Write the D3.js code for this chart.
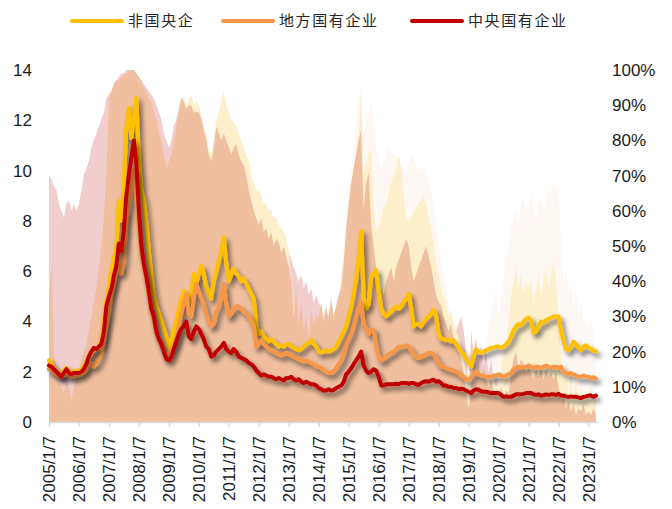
<!DOCTYPE html>
<html>
<head>
<meta charset="utf-8">
<script src="https://cdn.jsdelivr.net/npm/d3@7"></script>
<style>
  body { margin: 0; background: #fff; }
  svg { display: block; font-family: "Liberation Sans", Arial, sans-serif; }
  .tick text { fill: #1a1a1a; font-size: 17px; }
  .legend text { font-family: "Noto Sans CJK SC", sans-serif; font-size: 15px; fill: #262626; letter-spacing: 1.6px; }
</style>
</head>
<body>
<svg width="672" height="509"></svg>
<script>
// monthly readings, Jan 2005 .. Apr 2023
var startDate = new Date(2005, 0, 7);

var nonSoePE = [
  2.45, 2.3, 2.15, 2.05, 1.95, 1.9, 2.05, 2.15, 2.05, 1.95, 2.0, 2.05,
  2.05, 2.1, 2.2, 2.4, 2.6, 2.75, 2.85, 2.9, 3.0, 3.3, 4.0, 4.8,
  5.4, 6.0, 6.5, 6.9, 8.8, 8.0, 9.5, 11.7, 12.5, 11.3, 12.0, 12.9,
  10.4, 9.2, 8.8, 7.9, 6.8, 5.8, 5.0, 4.6, 4.3, 4.0, 3.7, 3.4,
  2.9, 3.3, 3.6, 4.0, 4.5, 4.9, 5.2, 5.1, 4.7, 5.2, 5.9, 5.5,
  5.9, 6.2, 5.9, 5.4, 5.1, 4.9, 5.6, 6.0, 6.4, 6.8, 7.35, 6.3,
  5.6, 5.9, 6.1, 5.9, 5.8, 5.6, 5.7, 5.5, 5.3, 5.1, 4.9, 3.8,
  3.5, 3.6, 3.4, 3.3, 3.2, 3.3, 3.2, 3.1, 3.0, 3.05, 3.0, 3.1,
  3.1, 3.0, 2.95, 2.9, 2.85, 2.9, 3.0, 3.1, 3.15, 3.25, 3.1, 3.0,
  2.8, 2.75, 2.8, 2.85, 2.8, 2.85, 2.9, 3.0, 3.2, 3.4, 3.6, 3.8,
  4.2, 4.6, 5.1, 5.7, 6.5, 7.6, 5.0, 4.5, 4.7, 5.8, 5.9, 6.05,
  5.2, 4.5, 4.3, 4.2, 4.3, 4.4, 4.5, 4.6, 4.5, 4.6, 4.8, 4.9,
  5.1, 4.5, 3.8, 3.9, 3.9, 3.8, 4.0, 4.1, 4.2, 4.3, 4.45, 4.2,
  3.5, 3.3, 3.3, 3.25, 3.3, 3.2, 3.25, 3.1, 2.95, 2.8, 2.7, 2.5,
  2.35, 2.2, 2.6, 2.9, 2.8, 2.75, 2.8, 2.85, 2.9, 2.95, 2.95, 3.0,
  3.0, 2.95, 3.0, 3.1, 3.2, 3.4, 3.65, 3.8, 3.9, 3.85, 4.0, 4.1,
  4.15, 4.0, 3.55, 3.6, 3.8, 4.0, 3.95, 4.05, 4.1, 4.15, 4.2, 4.2,
  4.2, 3.6, 3.2, 2.9, 2.85, 3.0, 3.2, 3.1, 2.95, 2.85, 3.0, 3.05,
  2.95, 2.9, 2.85, 2.8
];

var localSoePE = [
  2.1, 2.05, 2.0, 1.9, 1.85, 1.8, 1.85, 1.9, 1.85, 1.8, 1.8, 1.85,
  1.85, 1.9, 1.95, 2.05, 2.2, 2.35, 2.2, 2.3, 2.5, 2.7, 3.2, 3.8,
  4.3, 5.1, 5.5, 5.9, 6.3, 5.9, 6.4, 8.0, 8.6, 9.3, 10.0, 9.0,
  7.6, 6.6, 6.2, 5.6, 5.0, 4.4, 4.0, 3.5, 3.3, 3.0, 2.8, 2.6,
  2.7, 2.9, 3.1, 3.3, 3.8, 4.3, 4.7, 5.1, 4.3, 4.2, 4.9, 5.5,
  5.2, 4.9, 4.7, 4.3, 4.0, 3.8, 3.9, 4.4, 4.6, 5.0, 5.5, 4.7,
  4.2, 4.3, 4.5, 4.6, 4.6, 4.5, 4.4, 4.3, 4.2, 4.0, 3.8, 3.0,
  3.1, 3.25, 3.1, 3.0, 2.9, 2.85, 2.8, 2.75, 2.7, 2.65, 2.7, 2.75,
  2.7, 2.65, 2.6, 2.55, 2.5, 2.45, 2.4, 2.45, 2.4, 2.35, 2.3, 2.2,
  2.2, 2.15, 2.05, 2.0, 1.95, 1.95, 2.0, 2.15, 2.3, 2.45, 2.7, 3.1,
  3.3, 3.5, 3.8, 4.2, 4.5, 4.75, 3.9, 3.7, 3.5, 3.7, 3.65, 3.0,
  2.6, 2.45, 2.5, 2.6, 2.7, 2.75, 2.8, 2.9, 3.0, 3.0, 3.0, 3.05,
  3.0, 2.85, 2.7, 2.6, 2.55, 2.6, 2.65, 2.7, 2.75, 2.75, 2.7, 2.5,
  2.35, 2.2, 2.2, 2.15, 2.1, 2.07, 2.05, 2.0, 1.95, 1.85, 1.8, 1.7,
  1.65, 1.8, 1.95, 2.0, 1.9, 1.85, 1.85, 1.8, 1.8, 1.8, 1.85, 1.85,
  1.9, 1.85, 1.8, 1.85, 1.9, 1.95, 2.1, 2.15, 2.2, 2.15, 2.2, 2.2,
  2.25, 2.2, 2.15, 2.2, 2.2, 2.15, 2.2, 2.25, 2.2, 2.15, 2.2, 2.2,
  2.15, 2.2, 2.0, 1.95, 1.9, 1.95, 1.9, 1.85, 1.8, 1.8, 1.85, 1.8,
  1.8, 1.75, 1.78, 1.72
];

var centralSoePE = [
  2.25, 2.2, 2.1, 2.0, 1.9, 1.8, 1.95, 2.1, 1.95, 1.9, 1.95, 1.95,
  1.95, 2.0, 2.1, 2.3, 2.6, 2.8, 2.95, 2.9, 3.0, 3.1, 3.6, 4.6,
  5.0, 5.3, 5.8, 6.2, 7.1, 6.8, 7.6, 9.0, 9.8, 10.5, 11.2, 10.3,
  8.4, 7.0, 6.3, 5.8, 5.2, 4.5, 4.2, 3.6, 3.3, 3.1, 2.8, 2.5,
  2.45, 2.6, 2.9, 3.2, 3.5, 3.7, 3.8, 4.0, 3.4, 3.3, 3.6, 3.8,
  3.7, 3.5, 3.3, 3.0, 2.9, 2.6, 2.65, 2.8, 2.9, 3.0, 3.15, 2.9,
  2.8, 2.75, 2.9, 2.8, 2.6, 2.55, 2.5, 2.45, 2.35, 2.3, 2.2, 2.05,
  1.95, 1.85, 1.9, 1.85, 1.8, 1.8, 1.75, 1.7, 1.75, 1.7, 1.65, 1.75,
  1.75, 1.8, 1.7, 1.65, 1.7, 1.6, 1.55, 1.6, 1.55, 1.5, 1.5, 1.45,
  1.35, 1.3, 1.25, 1.25, 1.3, 1.25, 1.28, 1.35, 1.4, 1.45, 1.6, 1.9,
  2.0, 2.15, 2.3, 2.45, 2.6, 2.8, 2.25, 2.05, 1.95, 2.0, 2.1, 2.05,
  1.8, 1.45, 1.45, 1.5, 1.5, 1.5, 1.5, 1.52, 1.5, 1.55, 1.55, 1.55,
  1.52, 1.55, 1.55, 1.5, 1.48, 1.55, 1.6, 1.62, 1.6, 1.65, 1.68, 1.6,
  1.62, 1.55, 1.45, 1.45, 1.4, 1.4, 1.35, 1.35, 1.3, 1.32, 1.3, 1.25,
  1.2, 1.15, 1.25, 1.3, 1.28, 1.22, 1.2, 1.2, 1.18, 1.15, 1.15, 1.15,
  1.15, 1.08, 1.0, 1.02, 1.0, 1.0, 1.05, 1.1, 1.1, 1.1, 1.12, 1.15,
  1.15, 1.15, 1.1, 1.08, 1.1, 1.05, 1.07, 1.1, 1.08, 1.1, 1.1, 1.08,
  1.12, 1.05, 1.05, 1.02, 1.0, 1.02, 1.0, 1.0, 0.98, 0.95, 1.0, 1.02,
  1.05, 1.05, 1.0, 1.05
];

// percentile shading, right axis (%)
var haloPct = [
  0, 0, 0, 0, 0, 0, 0, 0, 0, 0, 0, 0,
  0, 0, 0, 0, 0, 0, 0, 0, 0, 0, 0, 0,
  0, 0, 0, 0, 0, 0, 0, 0, 0, 0, 0, 0,
  0, 0, 0, 0, 0, 0, 0, 0, 0, 0, 0, 0,
  0, 0, 0, 0, 0, 0, 0, 0, 0, 0, 0, 0,
  0, 0, 0, 0, 0, 0, 0, 0, 0, 0, 0, 0,
  0, 0, 0, 0, 0, 0, 0, 0, 0, 0, 0, 0,
  0, 0, 0, 0, 0, 0, 0, 0, 0, 0, 0, 0,
  0, 0, 0, 0, 0, 0, 0, 0, 0, 0, 0, 0,
  0, 0, 0, 0, 0, 0, 0, 0, 30, 40, 50, 60,
  66, 72, 78, 84, 90, 96, 80, 86, 88, 91, 84, 78,
  74, 72, 74, 76, 78, 77, 76, 75, 74, 73, 72, 70,
  74, 76, 75, 73, 72, 71, 72, 70, 68, 66, 62, 56,
  50, 46, 42, 38, 34, 30, 26, 22, 18, 14, 10, 6,
  4, 6, 8, 10, 12, 14, 18, 22, 26, 30, 34, 38,
  30, 36, 40, 46, 50, 55, 58, 60, 56, 62, 64, 60,
  62, 65, 60, 58, 62, 64, 60, 63, 66, 65, 68, 66,
  68, 50, 40, 44, 36, 40, 32, 38, 30, 34, 28, 30,
  26, 30, 24, 20
];

var centralPct = [
  70, 69, 67, 66, 62, 60, 58, 62, 63, 60, 62, 60,
  62, 66, 70, 72, 74, 78, 80, 82, 84, 86, 88, 92,
  93, 94, 96, 97, 98, 99, 99, 100, 100, 100, 100, 99,
  98, 97, 96, 95, 94, 93, 92, 90, 88, 86, 82, 80,
  78, 80, 84, 86, 89, 92, 92, 90, 91, 91, 89, 89,
  86, 84, 80, 78, 74, 72, 76, 82, 80, 78, 80, 78,
  76, 74, 76, 76, 74, 72, 70, 68, 64, 60, 58, 55,
  54, 52, 52, 50, 51, 50, 49, 48, 49, 48, 47, 48,
  48, 46, 44, 42, 40, 42, 38, 40, 36, 38, 34, 36,
  34, 32, 30, 33, 28, 30, 28, 30, 32, 34, 38, 44,
  50, 58, 64, 70, 74, 78, 55, 60, 62, 50, 44, 40,
  36, 34, 32, 34, 36, 38, 36, 38, 40, 42, 44, 46,
  44, 40, 36, 38, 40, 42, 44, 46, 44, 40, 36, 34,
  32, 30, 28, 26, 28, 26, 24, 26, 28, 30, 26, 20,
  8, 26, 20, 24, 18, 22, 16, 20, 14, 18, 12, 14,
  12, 9, 12, 10, 11, 10, 14, 12, 10, 12, 11, 10,
  10, 12, 10, 11, 10, 12, 10, 11, 10, 12, 10, 11,
  8, 6, 7, 5, 6, 4, 5, 3, 4, 3, 4, 3,
  3, 2, 3, 2
];

var nonSoePct = [
  20, 25, 15, 12, 10, 8, 8, 10, 8, 6, 8, 10,
  12, 15, 18, 20, 24, 28, 32, 36, 40, 46, 54, 66,
  90, 92, 95, 96, 97, 98, 99, 99, 100, 100, 100, 99,
  97, 96, 94, 92, 90, 88, 86, 84, 80, 78, 74, 70,
  72, 74, 78, 82, 86, 90, 93, 90, 92, 93, 90, 91,
  90, 87, 84, 82, 78, 76, 80, 86, 88, 92, 94, 90,
  88, 86, 85, 84, 82, 80, 78, 76, 74, 70, 68, 66,
  66, 64, 62, 62, 60, 60, 58, 58, 56, 55, 54, 52,
  48, 40, 32, 36, 28, 30, 25, 28, 24, 28, 26, 28,
  26, 28, 25, 28, 26, 30, 28, 32, 36, 40, 48, 52,
  58, 64, 69, 74, 82, 94, 70, 74, 76, 78, 60, 55,
  55, 58, 61, 62, 65, 68, 70, 72, 76, 72, 64, 58,
  57, 58, 60, 61, 62, 63, 64, 62, 58, 55, 50, 45,
  42, 38, 36, 34, 30, 32, 28, 26, 24, 22, 18, 14,
  10, 14, 16, 15, 16, 14, 15, 13, 12, 14, 12, 10,
  12, 15, 20, 22, 28, 36, 40, 44, 38, 42, 36, 40,
  38, 40, 34, 38, 42, 36, 40, 44, 38, 42, 46, 40,
  30, 18, 12, 16, 8, 14, 6, 12, 8, 10, 6, 9,
  7, 10, 5, 8
];

var localPct = [
  35, 45, 20, 15, 12, 10, 8, 12, 10, 6, 10, 12,
  15, 18, 20, 22, 26, 30, 34, 38, 44, 50, 58, 70,
  92, 94, 96, 97, 97, 98, 99, 99, 100, 100, 100, 99,
  98, 97, 95, 94, 92, 91, 88, 86, 82, 80, 76, 72,
  74, 76, 80, 84, 88, 92, 91, 89, 90, 90, 88, 88,
  88, 86, 83, 80, 76, 74, 78, 84, 82, 80, 82, 80,
  78, 76, 78, 79, 76, 74, 73, 70, 66, 63, 60, 58,
  56, 58, 54, 55, 52, 54, 50, 52, 51, 48, 50, 47,
  44, 40, 30, 38, 28, 34, 26, 30, 24, 32, 28, 30,
  30, 34, 28, 32, 30, 35, 30, 33, 36, 38, 45, 55,
  62, 68, 72, 76, 80, 83, 60, 68, 71, 56, 50, 44,
  40, 38, 36, 40, 42, 44, 40, 44, 46, 48, 50, 52,
  50, 44, 40, 42, 44, 46, 48, 50, 47, 44, 40, 36,
  34, 33, 30, 28, 26, 28, 24, 22, 20, 18, 14, 8,
  4, 10, 16, 14, 18, 12, 16, 12, 10, 12, 9, 8,
  7, 10, 6, 9, 8, 14, 18, 20, 15, 18, 16, 14,
  16, 14, 12, 15, 13, 16, 12, 15, 13, 14, 12, 14,
  10, 6, 8, 4, 6, 3, 5, 2, 4, 3, 5, 2,
  3, 2, 4, 2
];

var yearTicks = d3.range(2005, 2024);
var leftTicks = [0, 2, 4, 6, 8, 10, 12, 14];
var rightTicks = [0, 0.1, 0.2, 0.3, 0.4, 0.5, 0.6, 0.7, 0.8, 0.9, 1];

var svg = d3.select("svg");

var x = d3.scaleTime()
    .domain([startDate, new Date(2023, 3, 20)])
    .range([49, 597]);
var yL = d3.scaleLinear().domain([0, 14]).range([422, 70]);
var yR = d3.scaleLinear().domain([0, 1]).range([422, 70]);

function toSeries(vals) {
  return vals.map(function(v, i) {
    return { date: d3.timeMonth.offset(startDate, i), v: v };
  });
}

// drop shadow for the lines
var f = svg.append("defs").append("filter")
    .attr("id", "shadow")
    .attr("filterUnits", "userSpaceOnUse")
    .attr("x", 0).attr("y", 0).attr("width", 672).attr("height", 509);
f.append("feGaussianBlur").attr("in", "SourceAlpha").attr("stdDeviation", 2.5);
f.append("feOffset").attr("dx", 3).attr("dy", 4).attr("result", "off");
f.append("feComponentTransfer").append("feFuncA").attr("type", "linear").attr("slope", 0.55);
var fm = f.append("feMerge");
fm.append("feMergeNode");
fm.append("feMergeNode").attr("in", "SourceGraphic");

var area = d3.area()
    .x(function(d) { return x(d.date); })
    .y0(yR(0))
    .y1(function(d) { return yR(d.v / 100); });

var areas = [
  { vals: haloPct, fill: "#fef8f5" },
  { vals: centralPct, fill: "#f2cdcd" },
  { vals: nonSoePct, fill: "#fdefcc" },
  { vals: localPct, fill: "#efbf9f" }
];

svg.append("g").selectAll("path")
    .data(areas)
  .enter().append("path")
    .attr("d", function(d) { return area(toSeries(d.vals)); })
    .attr("fill", function(d) { return d.fill; });

var line = d3.line()
    .x(function(d) { return x(d.date); })
    .y(function(d) { return yL(d.v); });

var lines = [
  { name: "非国央企", vals: nonSoePE, color: "#ffc000" },
  { name: "地方国有企业", vals: localSoePE, color: "#f79646" },
  { name: "中央国有企业", vals: centralSoePE, color: "#c00000" }
];

svg.append("g").selectAll("path")
    .data(lines)
  .enter().append("path")
    .attr("d", function(d) { return line(toSeries(d.vals)); })
    .attr("fill", "none")
    .attr("stroke", function(d) { return d.color; })
    .attr("stroke-width", 4)
    .attr("stroke-linejoin", "round")
    .attr("stroke-linecap", "round")
    .attr("filter", "url(#shadow)");

// axes
var gl = svg.append("g")
    .attr("transform", "translate(49,0)")
    .call(d3.axisLeft(yL).tickValues(leftTicks).tickSize(0).tickPadding(17));
gl.select(".domain").remove();

var gr = svg.append("g")
    .attr("transform", "translate(597,0)")
    .call(d3.axisRight(yR).tickValues(rightTicks).tickSize(0).tickPadding(15)
      .tickFormat(d3.format(".0%")));
gr.select(".domain").remove();

var gx = svg.append("g")
    .attr("transform", "translate(0,422)")
    .call(d3.axisBottom(x)
      .tickValues(yearTicks.map(function(y) { return new Date(y, 0, 7); }))
      .tickSize(5).tickSizeOuter(0)
      .tickFormat(d3.timeFormat("%Y/%-m/%-d")));
gx.select(".domain").attr("stroke", "#d9d9d9").attr("stroke-width", 1.5);
gx.selectAll(".tick line").attr("stroke", "#d9d9d9").attr("stroke-width", 1.5);
gx.selectAll(".tick text")
    .attr("transform", "rotate(-90)")
    .attr("x", -14)
    .attr("y", 0)
    .attr("dy", "0.35em")
    .style("text-anchor", "end");

// legend
var legX = [72, 223, 412];
var leg = svg.append("g").attr("class", "legend")
  .selectAll("g")
    .data(lines)
  .enter().append("g")
    .attr("transform", function(d, i) { return "translate(" + legX[i] + ",21)"; });
leg.append("line")
    .attr("x1", 0).attr("x2", 50)
    .attr("stroke", function(d) { return d.color; })
    .attr("stroke-width", 4)
    .attr("stroke-linecap", "round");
leg.append("text")
    .attr("x", 56)
    .attr("dy", "0.35em")
    .text(function(d) { return d.name; });
</script>
</body>
</html>
